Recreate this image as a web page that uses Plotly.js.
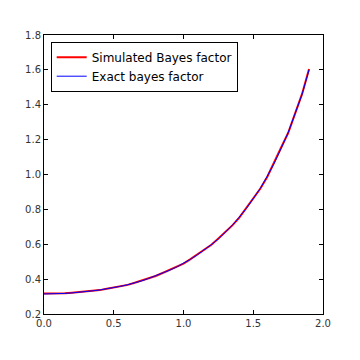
<!DOCTYPE html>
<html>
<head>
<meta charset="utf-8">
<script src="https://cdn.plot.ly/plotly-3.0.1.min.js"></script>
<style>html,body{margin:0;padding:0;background:#fff;}</style>
</head>
<body>
<div id="chart" style="width:360px;height:360px;"></div>
<script>
const xValues = [0.0,0.05,0.1,0.15,0.2,0.25,0.3,0.35,0.4,0.45,0.5,0.55,0.6,0.65,0.7,0.75,0.8,0.85,0.9,0.95,1.0,1.05,1.1,1.15,1.2,1.25,1.3,1.35,1.4,1.45,1.5,1.55,1.6,1.65,1.7,1.75,1.8,1.85,1.9];
const simulatedBF = [0.318,0.317,0.317,0.319,0.322,0.325,0.330,0.333,0.337,0.345,0.352,0.359,0.367,0.379,0.392,0.404,0.418,0.435,0.453,0.469,0.489,0.515,0.542,0.567,0.597,0.633,0.671,0.708,0.753,0.807,0.866,0.918,0.986,1.066,1.155,1.238,1.345,1.462,1.605];
const exactBF = [0.315,0.315,0.316,0.318,0.321,0.324,0.328,0.333,0.338,0.344,0.351,0.359,0.368,0.378,0.390,0.404,0.419,0.434,0.451,0.469,0.490,0.514,0.540,0.568,0.598,0.631,0.668,0.709,0.756,0.805,0.862,0.920,0.990,1.064,1.150,1.240,1.350,1.460,1.600];
const seriesNames = ["Simulated Bayes factor", "Exact bayes factor"];
const xTicks = [0.0,0.5,1.0,1.5,2.0];
const yTicks = [0.2,0.4,0.6,0.8,1.0,1.2,1.4,1.6,1.8];

const traces = [
  {x: xValues, y: simulatedBF, name: seriesNames[0], mode: 'lines', line: {color: '#ff0000', width: 2}},
  {x: xValues, y: exactBF, name: seriesNames[1], mode: 'lines', line: {color: '#0000ff', width: 1}}
];
const axisCommon = {
  showline: true, linecolor: '#000', linewidth: 1, mirror: 'ticks',
  ticks: 'inside', ticklen: 4, tickcolor: '#000', tickwidth: 1,
  showgrid: false, zeroline: false, tickformat: '.1f',
  tickfont: {family: 'DejaVu Sans', size: 10, color: '#333'}
};
const layout = {
  width: 360, height: 360,
  margin: {l: 44, r: 37, t: 35, b: 46},
  paper_bgcolor: '#fff', plot_bgcolor: '#fff',
  font: {family: 'DejaVu Sans'},
  xaxis: Object.assign({}, axisCommon, {range: [0, 2], tickvals: xTicks}),
  yaxis: Object.assign({}, axisCommon, {range: [0.2, 1.8], tickvals: yTicks}),
  showlegend: true,
  legend: {x: 0.024, y: 0.976, xanchor: 'left', yanchor: 'top',
    bordercolor: '#000', borderwidth: 1, bgcolor: '#fff',
    font: {family: 'DejaVu Sans', size: 12, color: '#000'}, itemwidth: 30}
};
Plotly.newPlot('chart', traces, layout, {staticPlot: true, displayModeBar: false});
</script>
</body>
</html>
